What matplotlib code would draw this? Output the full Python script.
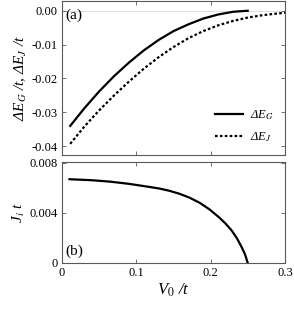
import matplotlib
matplotlib.use("Agg")
import matplotlib.pyplot as plt

plt.rcParams['font.family'] = ['Liberation Serif', 'DejaVu Serif']
plt.rcParams['mathtext.fontset'] = 'stix'
plt.rcParams['axes.unicode_minus'] = False

# energy differences, panel (a)
v_g = [0.011, 0.03, 0.05, 0.07, 0.09, 0.11, 0.13, 0.15, 0.17, 0.19, 0.21, 0.23, 0.2496]
de_g = [-0.0340, -0.0288, -0.0238, -0.0193, -0.0153, -0.0117, -0.0086, -0.0060,
        -0.0040, -0.0023, -0.0011, -0.0003, 0.0]

v_j = [0.011, 0.03, 0.05, 0.07, 0.09, 0.11, 0.13, 0.15, 0.17, 0.19, 0.21, 0.23,
       0.25, 0.27, 0.29, 0.30]
de_j = [-0.0393, -0.0342, -0.0294, -0.0250, -0.0209, -0.0171, -0.0137, -0.0107,
        -0.0081, -0.0060, -0.0043, -0.0030, -0.0020, -0.0013, -0.0008, -0.0006]

# current, panel (b)
v_c = [0.010, 0.04, 0.064, 0.09, 0.1176, 0.131, 0.1445, 0.158, 0.1714, 0.185,
       0.198, 0.2117, 0.22, 0.228, 0.235, 0.241, 0.246, 0.2495]
j_c = [0.00669, 0.00661, 0.00650, 0.00632, 0.00607, 0.00594, 0.00576, 0.00552,
       0.00521, 0.00480, 0.00428, 0.00360, 0.00312, 0.00258, 0.00196, 0.00130,
       0.00066, 0.0]

fig = plt.figure(figsize=(2.94, 3.10), dpi=100)
ax1 = fig.add_axes([0.211, 0.5, 0.759, 0.497])
ax2 = fig.add_axes([0.211, 0.153, 0.759, 0.3255])

for ax in (ax1, ax2):
    ax.tick_params(direction='in', top=True, right=True, length=3, width=0.6,
                   labelsize=9, color='0.35', pad=3)
    for s in ax.spines.values():
        s.set_color('0.35')
        s.set_linewidth(0.8)
    ax.set_xlim(0, 0.3)
    ax.set_xticks([0, 0.1, 0.2, 0.3])

# (a)
ax1.axhline(0, color='0.85', lw=0.6, zorder=0)
ax1.plot(v_g, de_g, color='black', lw=1.6, label='ΔE$_G$')
ax1.plot(v_j, de_j, color='black', lw=1.6, ls=(0, (1.2, 1.0)), label='ΔE$_J$')
ax1.set_ylim(-0.0426, 0.0029)
ax1.set_yticks([0.0, -0.01, -0.02, -0.03, -0.04])
ax1.set_yticklabels(['0.00', '-0.01', '-0.02', '-0.03', '-0.04'])
ax1.tick_params(labelbottom=False)
ax1.set_ylabel('ΔE$_G$ /t, ΔE$_J$ /t', fontsize=11, style='italic', labelpad=2)
ax1.text(0.004, -0.0012, '(a)', fontsize=11, va='center', ha='left')
ax1.legend(loc='lower right', frameon=False, prop={'size': 9, 'style': 'italic'},
           handlelength=2.2, borderaxespad=0.5, labelspacing=0.6, handletextpad=0.6)

# (b)
ax2.plot(v_c, j_c, color='black', lw=1.6)
ax2.set_ylim(0, 0.0081)
ax2.set_yticks([0, 0.004, 0.008])
ax2.set_yticklabels(['0', '0.004', '0.008'])
ax2.set_xticklabels(['0', '0.1', '0.2', '0.3'])
ax2.set_ylabel('J$_i$ t', fontsize=11, style='italic', labelpad=2)
ax2.set_xlabel('V$_0$ /t', fontsize=12, style='italic', labelpad=2)
ax2.text(0.005, 0.0009, '(b)', fontsize=11, va='center', ha='left')

fig.savefig('out.png', dpi=100)
